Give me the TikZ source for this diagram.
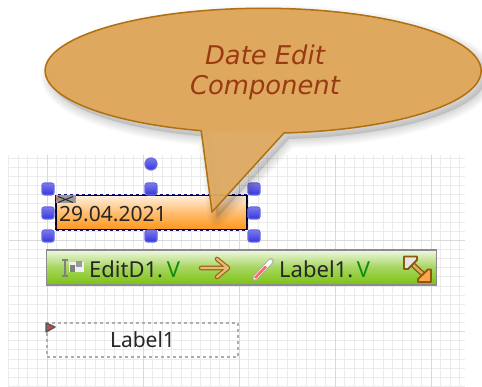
\documentclass[tikz,border=0pt]{standalone}
\usepackage{fontspec}
\setmainfont{Noto Sans}
\newfontfamily\callfont{DejaVu Sans}
\definecolor{callfill}{HTML}{DEA95E}
\definecolor{callline}{HTML}{B0700F}
\definecolor{calltext}{HTML}{9A3A12}
\definecolor{gridminor}{HTML}{EBEBEB}
\definecolor{gridmajor}{HTML}{DADADA}
\definecolor{handlefill}{HTML}{3434E0}
\definecolor{handleline}{HTML}{6A6AE0}
\definecolor{orangeb}{HTML}{FF961A}
\definecolor{greenb}{HTML}{7CC212}
\definecolor{darkv}{HTML}{128A12}
\definecolor{navyline}{HTML}{14147A}
\tikzset{
  x=1pt,y=1pt,
  handle/.style={draw=handleline,line width=1.2pt,inner sep=0pt,minimum size=12pt,rounded corners=2.5pt,
    top color=handlefill!65!white,bottom color=handlefill},
  handleround/.style={handle,circle},
  comptext/.style={font=\fontsize{22}{22}\selectfont,text=black!85,inner sep=0pt},
  calltxt/.style={font=\callfont\itshape\fontsize{25.8}{25.8}\selectfont,inner sep=0pt,text=calltext}
}
\newcommand{\callpath}{(284,-133) arc[start angle=-84.5,end angle=253.5,x radius=218,y radius=62.5] -- (212,-212) -- cycle}
\begin{document}
\begin{tikzpicture}
\useasboundingbox[fill=white] (0,-387) rectangle (482,0);
% grid
\foreach \i in {0,...,47}{
  \pgfmathsetmacro{\gx}{8.6+9.6*\i}
  \draw[gridminor,line width=1pt] (\gx,-155) -- (\gx,-387);
}
\foreach \i in {0,...,25}{
  \pgfmathsetmacro{\gy}{158.2+9.13*\i}
  \draw[gridminor,line width=1pt] (9,-\gy) -- (465,-\gy);
}
\foreach \gx in {47,143,239,335,431}{
  \draw[gridmajor,line width=1pt] (\gx,-155) -- (\gx,-387);
}
\foreach \gy in {240.4,331.7}{
  \draw[gridmajor,line width=1pt] (9,-\gy) -- (465,-\gy);
}
% label component
\node[draw=black!32,dashed,line width=1.2pt,minimum width=191pt,minimum height=34pt,inner sep=0pt,
  font=\fontsize{21}{21}\selectfont,text=black!85] (labelbox) at (142.5,-340) {Label1};
\draw[black!65,fill=red!65!black!70!white,line width=1.5pt,line join=round] (46,-323) -- (55,-327) -- (46,-332) -- cycle;
% date edit
\node[draw=black!85!blue,line width=1.4pt,minimum width=191pt,minimum height=34pt,inner sep=0pt,
  top color=white!85!orangeb,bottom color=orangeb,middle color=orangeb!62!white] (editbox) at (151.5,-212.5) {};
\draw[navyline,dashed,line width=1pt] (editbox.north west) rectangle (editbox.south east);
\node[comptext,font=\fontsize{21}{21}\selectfont,anchor=west] (datetext) at (59,-214) {29.04.2021};
\fill[black!40] (56,-195) rectangle (76,-203.5);
\draw[line width=1pt,black!85] (58,-196.5) -- (73,-202.5) (58,-202.5) -- (73,-196.5);
\fill[red!70] (57,-199) circle (1.5);
% handles
\foreach \n/\hx/\hy in {nw/48/189,nn/151/189,ne/254/189,ww/48/213,ee/254/213,sw/48/236,ss/151/236,se/254/236}{
  \node[handle] (h\n) at (\hx,-\hy) {};
}
\node[handleround] (hrot) at (151,-164) {};
% binding bar
\node[draw=black!45,line width=1.4pt,minimum width=390pt,minimum height=35pt,inner sep=0pt,
  top color=white!88!greenb,bottom color=greenb,middle color=greenb!68!white] (bar) at (241.5,-267.5) {};
% left icon
\fill[white!88!gray] (69,-262) rectangle (84,-272);
\draw[black!50,line width=1.1pt] (65,-260) -- (65,-276) (62,-260) -- (68,-260) (62,-276) -- (68,-276);
\fill[black!50] (70,-265) rectangle (75,-272);
\fill[black!40] (76,-261) rectangle (82,-267);
\node[comptext,anchor=west] (src) at (89,-269) {EditD1.\,\textcolor{darkv}{V}};
% arrow
\draw[line width=4.6pt,line cap=round,line join=round,color=callline!90!black] (201,-268) -- (228,-268) (217,-259) -- (228,-268) -- (217,-277);
\draw[line width=2.2pt,line cap=round,line join=round,color=callfill!80!white] (201,-268) -- (228,-268) (217,-259) -- (228,-268) -- (217,-277);
% pencil icon
\draw[black!35,line width=5.5pt,line cap=round] (255,-278) -- (271,-261);
\draw[white,line width=3.8pt,line cap=round] (255,-278) -- (271,-261);
\draw[red!60!white,line width=2.6pt] (255,-278) -- (266,-266.5);
\node[comptext,anchor=west] (dst) at (279,-269) {Label1.\,\textcolor{darkv}{V}};
% resize icon
\draw[callline!80!black,line width=5.4pt] (411,-263) -- (425,-276);
\draw[callfill,line width=2.6pt] (411,-263) -- (425,-276);
\draw[callline!80!black,line width=1.8pt,fill=black!10!white,line join=round] (404,-256.5) -- (417,-256.5) -- (417,-260) -- (408,-269) -- (404,-269) -- cycle;
\draw[callline!80!black,line width=1.8pt,fill=orange!70!white,line join=round] (431,-282) -- (418,-282) -- (418,-279) -- (428,-269.5) -- (431,-269.5) -- cycle;
% callout shadow
\foreach \w in {18,15,12,9,6,3}{
  \begin{scope}[xshift=5pt,yshift=-6pt]
  \draw[black,opacity=.022,line width=\w pt,line join=round] \callpath;
  \end{scope}
}
\begin{scope}[xshift=5pt,yshift=-6pt]
  \fill[black,opacity=.12] \callpath;
\end{scope}
% callout
\fill[callfill] (263,-70.5) ellipse [x radius=218,y radius=62.5];
\draw[fill=callfill,fill opacity=.93,draw=callline,line width=1.5pt,line join=round] \callpath;
% callout text
\node[calltxt] (line1) at (265,-55) {Date Edit};
\node[calltxt] (line2) at (265,-88) {Component};
\end{tikzpicture}
\end{document}
